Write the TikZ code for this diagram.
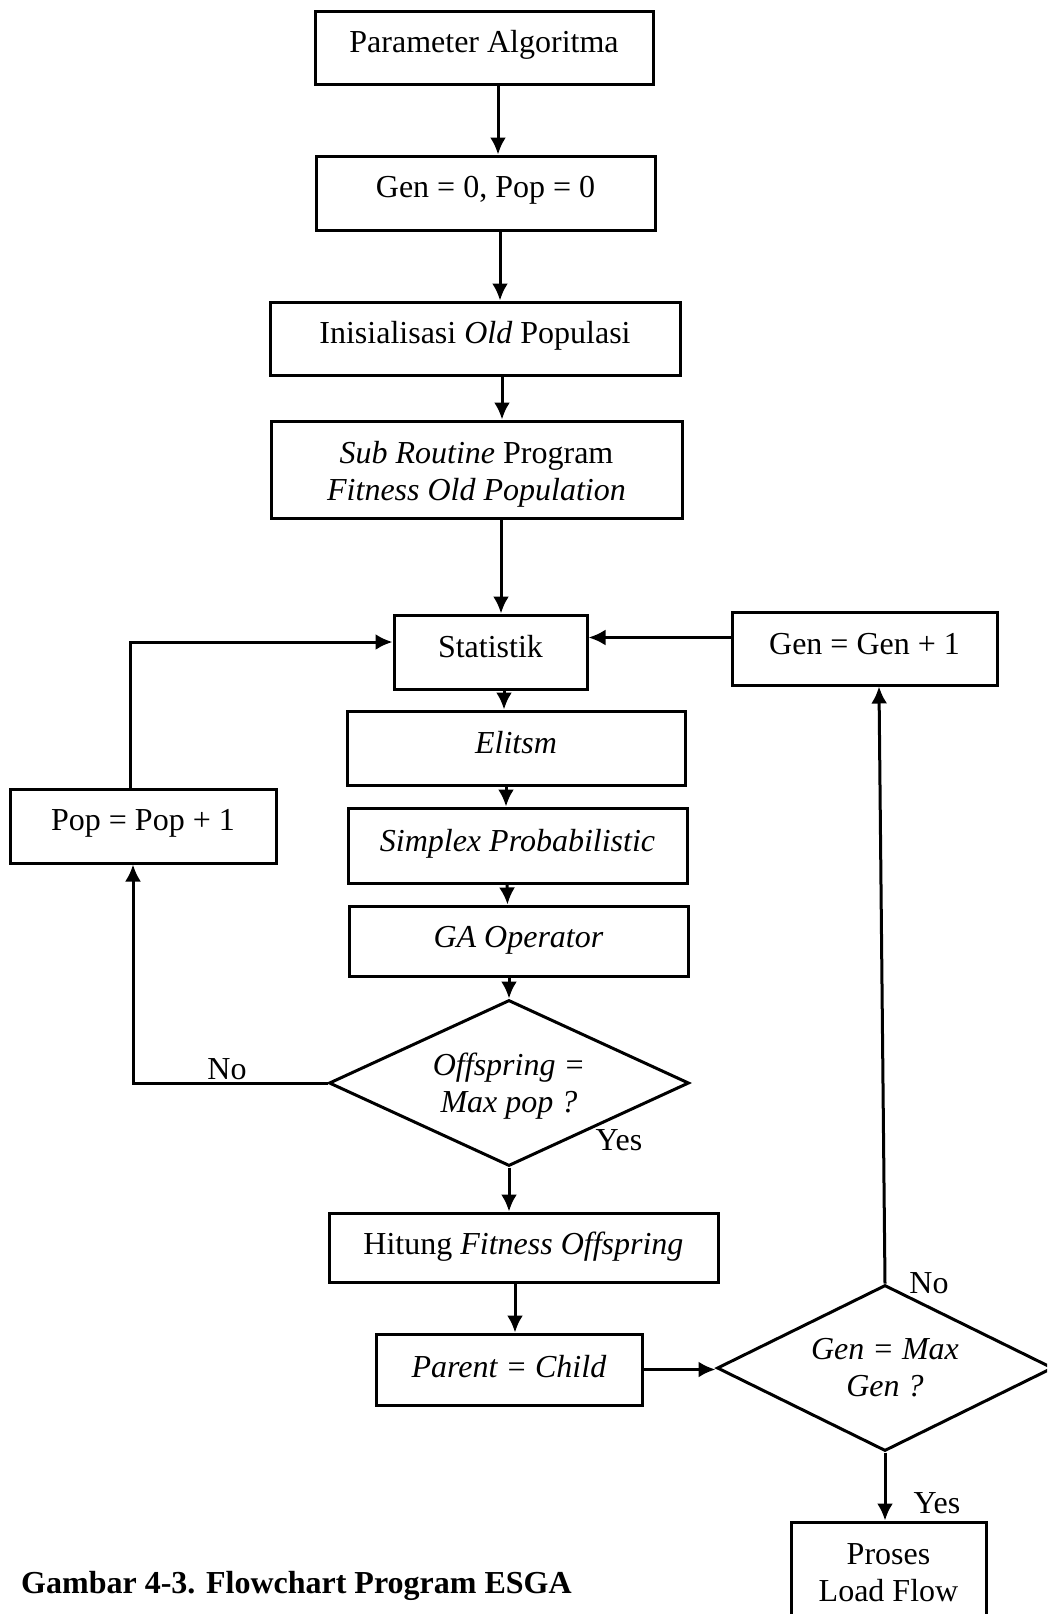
\documentclass[tikz,border=0pt]{standalone}
\usepackage{fontspec}
\setmainfont{Liberation Serif}
\usetikzlibrary{shapes.geometric,arrows.meta,calc}
\newcommand\liftby[2]{\raisebox{#1}[\height][\depth]{#2}}
\newcommand\twolines[3]{\raisebox{#1}[\height][\depth]{\begin{tabular}{@{}c@{}}#2\\#3\end{tabular}}}
\begin{document}
\begin{tikzpicture}[x=1pt,y=-1pt,
  box/.style={draw, line width=3pt, inner sep=0pt, align=center, font=\fontsize{32}{37}\selectfont},
  dec/.style={diamond, draw, line width=3pt, inner sep=0pt, shape aspect=2.2, align=center, font=\fontsize{32}{37}\selectfont\itshape},
  arr/.style={line width=3pt, -{Latex[length=17pt,width=16pt]}},
  lbl/.style={font=\fontsize{32}{37}\selectfont, inner sep=0pt}]
\useasboundingbox (0,0) rectangle (1047,1614);
\clip (0,0) rectangle (1047,1614);
\fill[white] (0,0) rectangle (1047,1614);

\node[box, minimum width=338pt, minimum height=73pt] (param) at (484,47.5) {\liftby{2.5pt}{Parameter Algoritma}};
\node[box, minimum width=339pt, minimum height=74pt] (gen0) at (485.5,193) {\liftby{2.5pt}{Gen = 0, Pop = 0}};
\node[box, minimum width=410pt, minimum height=73pt] (init) at (475,338.5) {\liftby{3pt}{Inisialisasi \textit{Old} Populasi}};
\node[box, minimum width=411pt, minimum height=97pt] (sub) at (476.5,469.5) {\twolines{-5pt}{\textit{Sub Routine} Program}{\textit{Fitness Old Population}}};
\node[box, minimum width=193pt, minimum height=74pt] (stat) at (490.5,652) {\liftby{5pt}{Statistik}};
\node[box, minimum width=265pt, minimum height=73pt] (gen1) at (864.5,648.5) {\liftby{4pt}{Gen = Gen + 1}};
\node[box, minimum width=338pt, minimum height=74pt] (elit) at (516,748) {\liftby{5pt}{\textit{Elitsm}}};
\node[box, minimum width=266pt, minimum height=74pt] (pop1) at (143,826) {\liftby{3pt}{Pop = Pop + 1}};
\node[box, minimum width=339pt, minimum height=75pt] (simp) at (517.5,845.5) {\liftby{2pt}{\textit{Simplex Probabilistic}}};
\node[box, minimum width=339pt, minimum height=70pt] (ga) at (518.5,941) {\liftby{1pt}{\textit{GA Operator}}};
\node[dec, minimum width=360pt, minimum height=166pt] (dia1) at (509,1083) {\twolines{-4pt}{Offspring =}{Max pop ?}};
\node[box, minimum width=389pt, minimum height=69pt] (hit) at (523.5,1247.5) {\liftby{1pt}{Hitung \textit{Fitness Offspring}}};
\node[box, minimum width=266pt, minimum height=71pt] (par) at (509,1369.5) {\liftby{3pt}{\textit{Parent = Child}}};
\node[dec, minimum width=336pt, minimum height=166pt] (dia2) at (885,1368) {Gen = Max\\Gen ?};
\node[box, minimum width=195pt, minimum height=102pt] (proc) at (888.5,1573) {Proses\\Load Flow};

\node[lbl] (no1) at (227,1069) {No};
\node[lbl] (yes1) at (619,1140) {Yes};
\node[lbl] (no2) at (929,1283) {No};
\node[lbl] (yes2) at (937,1503) {Yes};
\node[lbl, anchor=west, font=\fontsize{32}{37}\selectfont\bfseries] (cap) at (21,1586) {Gambar 4-3. Flowchart Program ESGA};

\draw[arr] ([xshift=14pt]param.south) -- ([xshift=12.5pt]gen0.north);
\draw[arr] ([xshift=14.5pt]gen0.south) -- ([xshift=25pt]init.north);
\draw[arr] ([xshift=27pt]init.south) -- ([xshift=25.5pt]sub.north);
\draw[arr] ([xshift=24.5pt]sub.south) -- ([xshift=10.5pt]stat.north);
\draw[arr] ([xshift=13.5pt]stat.south) -- ([xshift=-12pt]elit.north);
\draw[arr] ([xshift=-10pt]elit.south) -- ([xshift=-11.5pt]simp.north);
\draw[arr] ([xshift=-10.5pt]simp.south) -- ([xshift=-11pt]ga.north);
\draw[arr] ([xshift=-9.5pt]ga.south) -- (dia1.north);
\draw[arr] (dia1.south) -- (dia1.south |- hit.north);
\draw[arr] ([xshift=-8.5pt]hit.south) -- ([xshift=6pt]par.north);
\draw[arr] (par.east) -- (par.east -| dia2.west);
\draw[arr] (dia2.north) -- ([xshift=14.5pt]gen1.south);
\draw[arr] (dia2.south) -- (dia2.south |- proc.north);
\draw[arr] ([yshift=11pt]gen1.west) -- ([yshift=11pt]gen1.west -| stat.east);
\draw[arr] ([xshift=-13pt]pop1.north) |- ([yshift=10pt]stat.west);
\draw[arr] (dia1.west) -| ([xshift=-10pt]pop1.south);
\end{tikzpicture}
\end{document}
